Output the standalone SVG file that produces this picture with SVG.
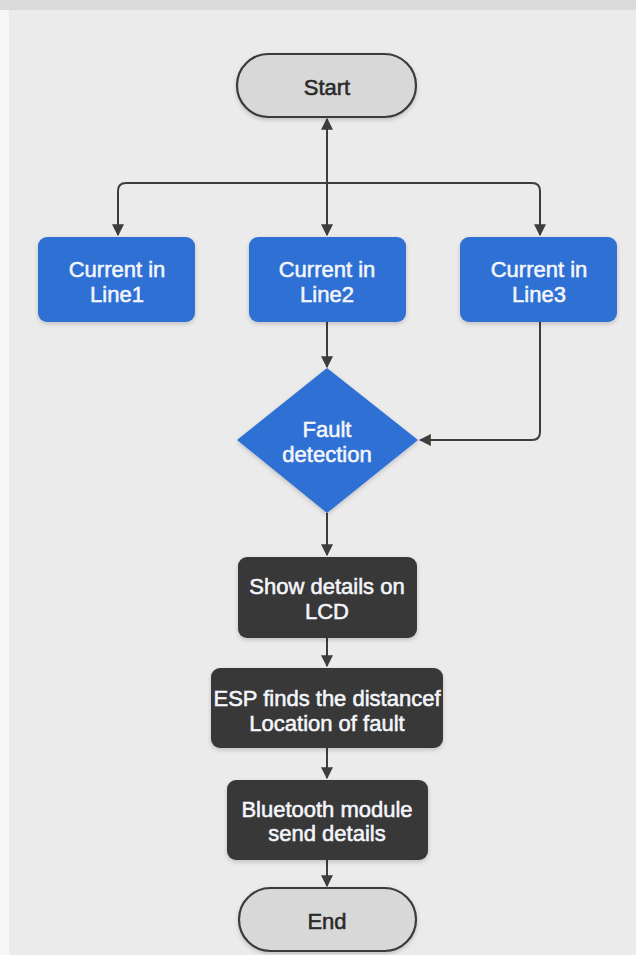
<svg xmlns="http://www.w3.org/2000/svg" width="636" height="955" viewBox="0 0 636 955">
  <defs>
    <marker id="arr" viewBox="0 0 10 10" refX="9" refY="5" markerWidth="6" markerHeight="6" orient="auto-start-reverse" markerUnits="strokeWidth">
      <path d="M0,0 L10,5 L0,10 z" fill="#3d3d3d"/>
    </marker>
    <filter id="sh" x="-10%" y="-10%" width="120%" height="130%">
      <feDropShadow dx="0" dy="2" stdDeviation="2" flood-color="#000" flood-opacity="0.18"/>
    </filter>
  </defs>
  <style>
    .t { font-family: "Liberation Sans", Arial, sans-serif; font-size: 22px; text-anchor: middle; stroke-width: 0.55px; }
    .w { fill: #f4f6fb; stroke: #f4f6fb; }
    .k { fill: #2a2a2a; stroke: #2a2a2a; }
    .blue { fill: #2e6fd3; filter: url(#sh); }
    .dark { fill: #383838; filter: url(#sh); }
    .pill { fill: #d8d8d8; stroke: #3a3a3a; stroke-width: 2.2; filter: url(#sh); }
    .c { fill: none; stroke: #3d3d3d; stroke-width: 2; }
  </style>

  <rect x="0" y="0" width="636" height="955" fill="#f6f6f6"/>
  <rect x="0" y="0" width="636" height="10" fill="#dadada"/>
  <rect x="9" y="10" width="627" height="945" fill="#ebebeb"/>

  <g id="connectors">
    <path class="c" d="M327,183 L327,119" marker-end="url(#arr)"/>
    <path class="c" d="M327,183 L126,183 Q118,183 118,191 L118,235" marker-end="url(#arr)"/>
    <path class="c" d="M327,183 L532,183 Q540,183 540,191 L540,235" marker-end="url(#arr)"/>
    <path class="c" d="M327,183 L327,235" marker-end="url(#arr)"/>
    <path class="c" d="M327,322 L327,367" marker-end="url(#arr)"/>
    <path class="c" d="M540,322 L540,432 Q540,440 532,440 L420,440" marker-end="url(#arr)"/>
    <path class="c" d="M327,513 L327,555" marker-end="url(#arr)"/>
    <path class="c" d="M327,638 L327,666" marker-end="url(#arr)"/>
    <path class="c" d="M327,748 L327,778" marker-end="url(#arr)"/>
    <path class="c" d="M327,860 L327,886" marker-end="url(#arr)"/>
  </g>

  <g id="start">
    <rect class="pill" x="237" y="54" width="179" height="63" rx="31.5"/>
    <text class="t k" x="327" y="95">Start</text>
  </g>

  <g id="line1">
    <rect class="blue" x="38" y="237" width="157" height="85" rx="9"/>
    <text class="t w" x="117" y="277">Current in</text>
    <text class="t w" x="117" y="302">Line1</text>
  </g>
  <g id="line2">
    <rect class="blue" x="249" y="237" width="157" height="85" rx="9"/>
    <text class="t w" x="327" y="277">Current in</text>
    <text class="t w" x="327" y="302">Line2</text>
  </g>
  <g id="line3">
    <rect class="blue" x="460" y="237" width="157" height="85" rx="9"/>
    <text class="t w" x="539" y="277">Current in</text>
    <text class="t w" x="539" y="302">Line3</text>
  </g>

  <g id="fault">
    <path class="blue" d="M327,368 L418,440 L327,513 L237,440 Z"/>
    <text class="t w" x="327" y="437">Fault</text>
    <text class="t w" x="327" y="462">detection</text>
  </g>

  <g id="lcd">
    <rect class="dark" x="238" y="557" width="179" height="81" rx="9"/>
    <text class="t w" x="327" y="594">Show details on</text>
    <text class="t w" x="327" y="619">LCD</text>
  </g>

  <g id="esp">
    <rect class="dark" x="211" y="668" width="232" height="80" rx="9"/>
    <text class="t w" x="327" y="706">ESP finds the distancef</text>
    <text class="t w" x="327" y="731">Location of fault</text>
  </g>

  <g id="bluetooth">
    <rect class="dark" x="227" y="780" width="201" height="80" rx="9"/>
    <text class="t w" x="327" y="817">Bluetooth module</text>
    <text class="t w" x="327" y="841">send details</text>
  </g>

  <g id="end">
    <rect class="pill" x="239" y="888" width="177" height="63" rx="31.5"/>
    <text class="t k" x="327" y="929">End</text>
  </g>
</svg>
